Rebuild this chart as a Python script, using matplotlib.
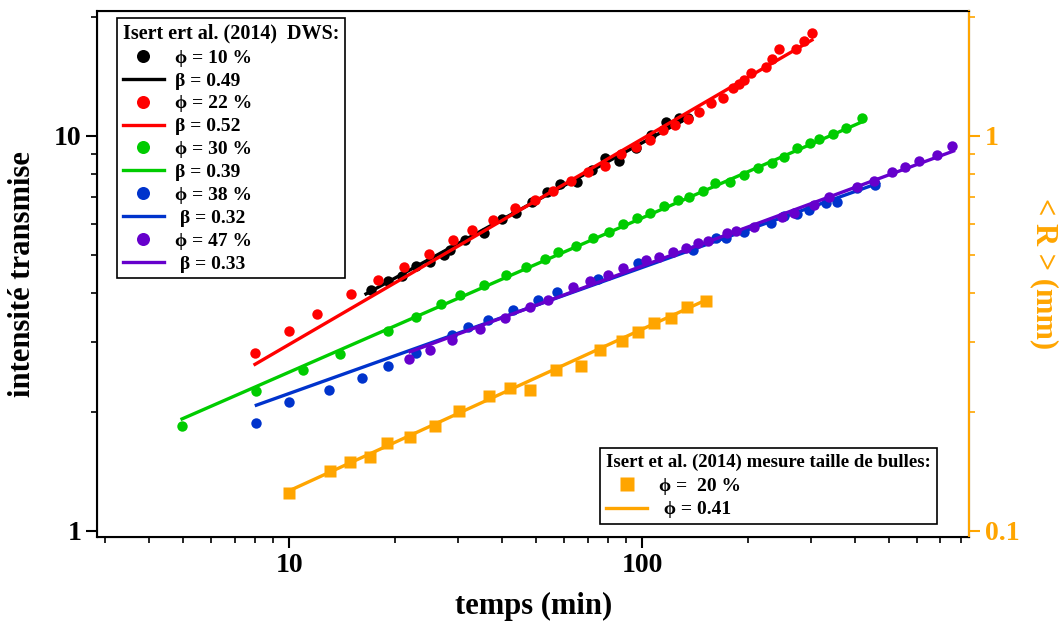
import numpy as np
import matplotlib
matplotlib.use("Agg")
import matplotlib.pyplot as plt
from matplotlib.ticker import LogLocator, FuncFormatter, NullFormatter

plt.rcParams['font.family'] = ['Liberation Serif', 'DejaVu Serif']
plt.rcParams['font.weight'] = 'bold'

# --- data (temps en min, intensite transmise) ---
t_10 = [17.1, 19.0, 20.9, 22.9, 25.1, 27.5, 28.5, 31.5, 35.6, 40.1, 43.9, 48.7, 53.7,
        58.4, 65.2, 71.9, 78.3, 85.7, 96.3, 106.2, 117.1, 127.5, 135.1]
I_10 = [4.08, 4.30, 4.42, 4.69, 4.80, 5.00, 5.15, 5.45, 5.68, 6.17, 6.38, 6.81, 7.21,
        7.56, 7.65, 8.20, 8.80, 8.65, 9.32, 10.06, 10.85, 11.11, 11.11]

t_22 = [8.0, 10.0, 12.0, 15.0, 17.9, 21.2, 24.9, 29.2, 32.9, 37.8, 43.6, 49.6, 55.9,
        63.0, 70.2, 78.3, 87.3, 96.2, 104.9, 114.3, 124.2, 134.5, 145.2, 156.6, 168.9,
        180.3, 188.3, 194.5, 203.3, 224.0, 233.8, 244.3, 272.3, 287.3, 302.1]
I_22 = [2.82, 3.20, 3.54, 3.97, 4.32, 4.66, 5.03, 5.45, 5.78, 6.13, 6.56, 6.89, 7.26,
        7.69, 8.12, 8.41, 9.00, 9.36, 9.77, 10.36, 10.66, 11.02, 11.52, 12.14, 12.50,
        13.21, 13.52, 13.86, 14.41, 14.98, 15.64, 16.58, 16.58, 17.43, 18.20]

t_30 = [4.96, 8.03, 10.95, 13.96, 19.0, 22.9, 26.9, 30.5, 35.6, 41.1, 47.0, 53.0, 57.7,
        64.8, 72.5, 80.5, 88.1, 96.5, 105.5, 115.6, 126.1, 135.4, 148.3, 160.8, 177.6,
        194.5, 213.0, 232.9, 252.4, 275.1, 298.8, 316.8, 347.6, 377.0, 419.1]
I_30 = [1.84, 2.26, 2.56, 2.80, 3.21, 3.48, 3.75, 3.96, 4.20, 4.45, 4.67, 4.88, 5.08,
        5.27, 5.51, 5.72, 5.99, 6.19, 6.39, 6.65, 6.89, 7.02, 7.26, 7.59, 7.66,
        7.97, 8.31, 8.56, 8.86, 9.31, 9.58, 9.81, 10.10, 10.46, 11.11]

t_38 = [8.03, 9.97, 13.0, 16.1, 19.1, 22.9, 28.9, 32.1, 36.6, 43.0, 50.6, 57.3, 74.8,
        97.2, 139.0, 161.8, 172.7, 194.5, 231.4, 252.4, 275.1, 297.0, 331.0, 357.0,
        406.0, 456.0]
I_38 = [1.87, 2.12, 2.27, 2.44, 2.61, 2.82, 3.13, 3.29, 3.42, 3.63, 3.85, 4.03, 4.35,
        4.76, 5.15, 5.51, 5.51, 5.72, 6.01, 6.27, 6.35, 6.50, 6.75, 6.82, 7.39, 7.51]

t_47 = [21.8, 25.1, 28.9, 34.7, 40.8, 48.0, 54.0, 63.6, 71.0, 79.8, 88.1, 102.6, 111.9,
        122.0, 133.2, 143.6, 153.2, 173.4, 184.3, 207.6, 249.6, 269.3, 306.7, 338.1,
        406.0, 453.0, 509.0, 554.0, 607.0, 683.0, 753.0]
I_47 = [2.72, 2.87, 3.04, 3.25, 3.46, 3.69, 3.85, 4.15, 4.30, 4.45, 4.62, 4.86, 4.93,
        5.09, 5.20, 5.35, 5.43, 5.67, 5.76, 5.89, 6.23, 6.39, 6.69, 7.02, 7.43, 7.69,
        8.11, 8.35, 8.65, 8.95, 9.43]

# taille de bulles <R> (mm)
t_R = [9.97, 13.02, 14.9, 16.9, 18.92, 22.0, 25.9, 30.3, 36.8, 42.2, 48.1, 56.9, 66.9,
       75.7, 87.4, 97.6, 108.3, 121.0, 134.3, 151.9]
R_mm = [0.125, 0.142, 0.149, 0.154, 0.167, 0.173, 0.1845, 0.201, 0.220, 0.230, 0.2275,
        0.256, 0.262, 0.287, 0.303, 0.319, 0.336, 0.346, 0.369, 0.382]

# ajustements en loi de puissance (extremites)
fit_t = {'10': [16.5, 136.0], '22': [8.0, 302.7], '30': [4.97, 418.9],
         '38': [8.07, 468.0], '47': [22.0, 762.0], 'R': [10.0, 151.9]}
fit_y = {'10': [3.98, 11.17], '22': [2.64, 17.5], '30': [1.92, 10.85],
         '38': [2.08, 7.60], '47': [2.84, 9.16], 'R': [0.1263, 0.3845]}

series = [
    ('10', t_10, I_10, 'black', '\u03d5 = 10 %', '\u03b2 = 0.49'),
    ('22', t_22, I_22, '#ff0000', '\u03d5 = 22 %', '\u03b2 = 0.52'),
    ('30', t_30, I_30, '#00cc00', '\u03d5 = 30 %', '\u03b2 = 0.39'),
    ('38', t_38, I_38, '#0033cc', '\u03d5 = 38 %', ' \u03b2 = 0.32'),
    ('47', t_47, I_47, '#6600cc', '\u03d5 = 47 %', ' \u03b2 = 0.33'),
]
orange = '#ffa500'

fig = plt.figure(figsize=(10.59, 6.23), dpi=100)
ax = fig.add_axes([0.0919, 0.1385, 0.8231, 0.8435])

handles = []
for key, t, I, c, lab_pts, lab_fit in series:
    h1, = ax.plot(t, I, 'o', color=c, ms=7.5, mec='none', label=lab_pts)
    h2, = ax.plot(fit_t[key], fit_y[key], '-', color=c, lw=2.4, label=lab_fit)
    handles += [h1, h2]

ax.set_xscale('log')
ax.set_yscale('log')
ax.set_xlim(2.86, 843)
ax.set_ylim(0.966, 20.7)

fmt = FuncFormatter(lambda v, p: '%g' % v)
for a in [ax.xaxis, ax.yaxis]:
    a.set_major_locator(LogLocator(base=10))
    a.set_minor_locator(LogLocator(base=10, subs=np.arange(2, 10)))
    a.set_major_formatter(fmt)
    a.set_minor_formatter(NullFormatter())

ax.tick_params(which='major', direction='out', length=8, width=1.5, labelsize=20)
ax.tick_params(which='minor', direction='out', length=4, width=1.2)
for s in ax.spines.values():
    s.set_linewidth(1.5)

ax.set_xlabel('temps (min)', fontsize=22, fontweight='bold', labelpad=10)
ax.set_ylabel('intensité transmise', fontsize=22, fontweight='bold', labelpad=12)

# axe de droite : taille de bulles
ax2 = ax.twinx()
ax2.set_yscale('log')
ax2.set_ylim(0.0966, 2.07)
hR, = ax2.plot(t_R, R_mm, 's', color=orange, ms=8, mec='none', label='\u03d5 =  20 %')
hRf, = ax2.plot(fit_t['R'], fit_y['R'], '-', color=orange, lw=2.4, label=' \u03d5 = 0.41')
ax2.yaxis.set_major_locator(LogLocator(base=10))
ax2.yaxis.set_minor_locator(LogLocator(base=10, subs=np.arange(2, 10)))
ax2.yaxis.set_major_formatter(fmt)
ax2.yaxis.set_minor_formatter(NullFormatter())
ax2.tick_params(which='major', direction='out', length=8, width=1.5, labelsize=20,
                colors=orange)
ax2.tick_params(which='minor', direction='out', length=4, width=1.2, colors=orange)
ax2.spines['right'].set_color(orange)
ax2.spines['right'].set_linewidth(1.5)
ax2.set_ylabel('< R > (mm)', fontsize=22, fontweight='bold', color=orange,
               rotation=270, labelpad=28)

leg_kw = dict(loc='upper left', bbox_transform=fig.transFigure,
              prop={'weight': 'bold', 'size': 14},
              frameon=True, fancybox=False, edgecolor='black', framealpha=1,
              handlelength=2.1, handletextpad=0.6,
              borderpad=0.3, borderaxespad=0, markerscale=1.25)

leg1 = ax.legend(handles=handles, bbox_to_anchor=(0.1105, 0.971),
                 title='Isert ert al. (2014)  DWS:', labelspacing=0.27,
                 title_fontproperties={'weight': 'bold', 'size': 14.5}, **leg_kw)
leg1.get_frame().set_linewidth(1.2)
leg1._legend_box.align = 'left'

leg2 = ax2.legend(handles=[hR, hRf], bbox_to_anchor=(0.567, 0.281),
                  title='Isert et al. (2014) mesure taille de bulles:', labelspacing=0.31,
                  title_fontproperties={'weight': 'bold', 'size': 13.5}, **leg_kw)
leg2.get_frame().set_linewidth(1.2)
leg2._legend_box.align = 'left'

fig.savefig('out.png', dpi=100)
